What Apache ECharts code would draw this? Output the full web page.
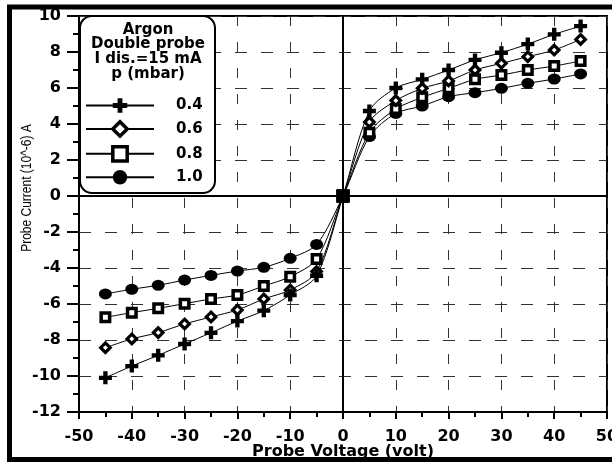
<!DOCTYPE html>
<html>
<head>
<meta charset="utf-8">
<script src="https://cdn.jsdelivr.net/npm/echarts@6/dist/echarts.min.js"></script>
<style>
  html, body { margin: 0; padding: 0; background: #fff; }
  #chart { width: 612px; height: 462px; }
</style>
</head>
<body>
<div id="chart"></div>
<script>
// probe voltage (volt)
const voltage = [-45, -40, -35, -30, -25, -20, -15, -10, -5, 0, 5, 10, 15, 20, 25, 30, 35, 40, 45];
// probe current (10^-6 A) for each pressure
const cur04 = [-10.1, -9.45, -8.85, -8.22, -7.6, -6.95, -6.37, -5.5, -4.43, 0, 4.72, 6.0, 6.48, 7.0, 7.56, 7.96, 8.44, 8.98, 9.44];
const cur06 = [-8.43, -7.94, -7.59, -7.11, -6.72, -6.33, -5.72, -5.22, -4.2, 0, 4.11, 5.3, 5.98, 6.39, 7.0, 7.37, 7.74, 8.11, 8.7];
const cur08 = [-6.74, -6.48, -6.24, -5.98, -5.72, -5.5, -5.0, -4.48, -3.5, 0, 3.52, 4.83, 5.48, 5.98, 6.48, 6.72, 7.0, 7.22, 7.5];
const cur10 = [-5.44, -5.18, -4.96, -4.67, -4.41, -4.17, -3.96, -3.46, -2.69, 0, 3.3, 4.59, 5.0, 5.52, 5.74, 5.98, 6.26, 6.5, 6.78];
const pressures = ['0.4', '0.6', '0.8', '1.0'];
const boxTitle = ['Argon', 'Double probe', 'I dis.=15 mA', 'p (mbar)'];

const BOLD = '"DejaVu Sans", sans-serif';
const PLAIN = '"Liberation Sans", Arial, sans-serif';
const plusPath = 'path://M4,0h4v4h4v4h-4v4h-4v-4h-4v-4h4z';

function pts(ys) {
  // origin point is drawn as a filled square
  return voltage.map((v, i) => v === 0
    ? { value: [v, ys[i]], symbol: 'rect', symbolSize: 13, itemStyle: { color: '#000', borderWidth: 0 } }
    : [v, ys[i]]);
}

function mkSeries(name, ys, symbol, size, itemStyle) {
  return {
    name: name,
    type: 'line',
    smooth: 0.3,
    data: pts(ys),
    symbol: symbol,
    symbolSize: size,
    showAllSymbol: true,
    lineStyle: { color: '#000', width: 1 },
    itemStyle: itemStyle,
    z: 5
  };
}

const chart = echarts.init(document.getElementById('chart'), null, { renderer: 'canvas' });

const series = [
  mkSeries(pressures[3], cur10, 'circle', [13, 11], { color: '#000' }),
  mkSeries(pressures[2], cur08, 'rect', 8.5, { color: '#fff', borderColor: '#000', borderWidth: 3.5 }),
  mkSeries(pressures[1], cur06, 'diamond', 9.5, { color: '#fff', borderColor: '#000', borderWidth: 3.2 }),
  mkSeries(pressures[0], cur04, plusPath, 13, { color: '#000' })
];
// zero lines
series[0].markLine = {
  silent: true,
  symbol: 'none',
  label: { show: false },
  lineStyle: { color: '#000', width: 2, type: 'solid' },
  data: [{ xAxis: 0 }, { yAxis: 0 }],
  z: 3
};

const option = {
  animation: false,
  backgroundColor: '#fff',
  textStyle: { fontFamily: BOLD },
  grid: {
    left: 79, right: 5, top: 16, bottom: 50,
    outerBoundsMode: 'none',
    containLabel: false,
    show: true, borderColor: '#000', borderWidth: 2
  },
  xAxis: {
    type: 'value',
    min: -50, max: 50, interval: 10,
    axisLine: { onZero: false, lineStyle: { color: '#000', width: 2 } },
    axisTick: { length: 7, lineStyle: { color: '#000', width: 2 } },
    minorTick: { show: true, splitNumber: 2, length: 5, lineStyle: { color: '#000', width: 2 } },
    axisLabel: { color: '#000', fontWeight: 'bold', fontSize: 16, margin: 17, fontFamily: BOLD, hideOverlap: false },
    splitLine: { show: true, lineStyle: { color: '#333', width: 1, type: [10, 16] } },
    name: 'Probe Voltage (volt)',
    nameLocation: 'middle',
    nameGap: 32,
    nameMoveOverlap: false,
    nameTextStyle: { color: '#000', fontWeight: 'bold', fontSize: 16, fontFamily: BOLD }
  },
  yAxis: {
    type: 'value',
    min: -12, max: 10, interval: 2,
    axisLine: { onZero: false, lineStyle: { color: '#000', width: 2 } },
    axisTick: { length: 12, lineStyle: { color: '#000', width: 2 } },
    minorTick: { show: true, splitNumber: 2, length: 6, lineStyle: { color: '#000', width: 2 } },
    axisLabel: { color: '#000', fontWeight: 'bold', fontSize: 16, margin: 18, fontFamily: BOLD },
    splitLine: { show: true, lineStyle: { color: '#333', width: 1, type: [12, 14] } }
  },
  legend: {
    orient: 'vertical',
    left: 85, top: 98,
    padding: 0,
    itemWidth: 68, itemHeight: 18, itemGap: 7,
    data: pressures.map((p, i) => i === 1 || i === 2
      ? { name: p, itemStyle: { borderWidth: 3.5, borderColor: '#000', color: '#fff' } }
      : { name: p }),
    textStyle: { color: '#000', fontWeight: 'bold', fontSize: 15, fontFamily: BOLD, padding: [0, 0, 0, 17] },
    selectedMode: false,
    z: 20
  },
  graphic: [
    {
      type: 'rect', z: 10,
      shape: { x: 80, y: 16, width: 135, height: 177, r: 12 },
      style: { fill: '#fff', stroke: '#000', lineWidth: 2 }
    },
    {
      type: 'text', z: 11, x: 148, y: 22.5,
      style: {
        text: boxTitle.join('\n'), fill: '#000', align: 'center',
        font: 'bold 15px ' + BOLD, lineHeight: 14.7
      }
    },
    {
      type: 'text', z: 11, x: 27, y: 188, rotation: Math.PI / 2, scaleY: 1.25,
      style: {
        text: 'Probe Current (10^-6) A', fill: '#000', align: 'center', verticalAlign: 'middle',
        font: '12px ' + PLAIN
      }
    },
    {
      type: 'rect', z: 30,
      shape: { x: 9.5, y: 7, width: 620, height: 452.5 },
      style: { fill: 'none', stroke: '#000', lineWidth: 5 }
    }
  ],
  series: series
};

chart.setOption(option);
</script>
</body>
</html>
